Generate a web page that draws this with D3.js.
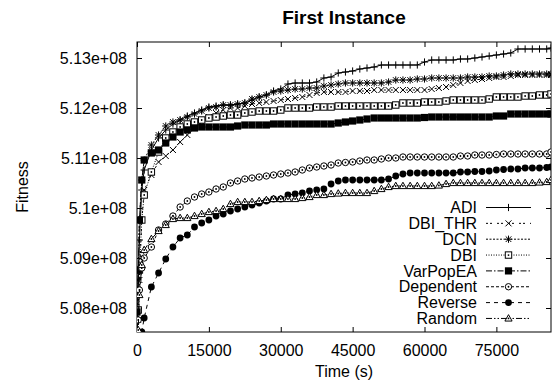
<!DOCTYPE html>
<html>
<head>
<meta charset="utf-8">
<script src="https://cdn.jsdelivr.net/npm/d3@7"></script>
<style>
  body { margin: 0; background: #fff; }
  text { font-family: "Liberation Sans", Arial, sans-serif; fill: #000; }
</style>
</head>
<body>
<div id="chart"></div>
<script>
// sample times (s), shared by every run
var times = [0, 250, 500, 1000,
  1500, 3000, 4500, 6000, 7500, 9000, 10500, 12000, 13500, 15000,
  16500, 18000, 19500, 21000, 22500, 24000, 25500, 27000, 28500, 30000,
  31500, 33000, 34500, 36000, 37500, 39000, 40500, 42000, 43500, 45000,
  46500, 48000, 49500, 51000, 52500, 54000, 55500, 57000, 58500, 60000,
  61500, 63000, 64500, 66000, 67500, 69000, 70500, 72000, 73500, 75000,
  76500, 78000, 79500, 81000, 82500, 84000, 85500,
  86400];

// fitness, in millions
var adi = [507.36, 508.36, 509.36, 510.36,
  510.76, 511.16, 511.40, 511.56, 511.68, 511.76, 511.84, 511.90, 511.96, 512.02,
  512.04, 512.06, 512.06, 512.08, 512.10, 512.16, 512.22, 512.26, 512.34, 512.38,
  512.48, 512.50, 512.50, 512.50, 512.52, 512.60, 512.62, 512.70, 512.72, 512.74,
  512.78, 512.80, 512.82, 512.86, 512.86, 512.86, 512.86, 512.86, 512.86, 512.92,
  512.96, 512.96, 512.96, 512.96, 512.98, 512.98, 513.00, 513.02, 513.04, 513.06,
  513.08, 513.10, 513.18, 513.18, 513.18, 513.18, 513.18,
  513.20];

var dbiThr = [507.26, 507.76, 508.56, 509.76,
  510.36, 510.66, 510.92, 511.04, 511.16, 511.32, 511.46, 511.60, 511.72, 511.82,
  511.90, 511.96, 512.00, 512.00, 512.04, 512.08, 512.10, 512.12, 512.14, 512.16,
  512.18, 512.20, 512.22, 512.26, 512.30, 512.32, 512.32, 512.32, 512.32, 512.34,
  512.34, 512.34, 512.36, 512.36, 512.36, 512.36, 512.36, 512.36, 512.36, 512.36,
  512.38, 512.40, 512.42, 512.46, 512.50, 512.54, 512.56, 512.58, 512.60, 512.62,
  512.62, 512.64, 512.66, 512.66, 512.66, 512.66, 512.66,
  512.66];

var dcn = [507.36, 508.56, 509.76, 510.56,
  510.96, 511.26, 511.46, 511.64, 511.72, 511.76, 511.82, 511.88, 511.94, 512.00,
  512.02, 512.06, 512.06, 512.08, 512.10, 512.18, 512.22, 512.26, 512.32, 512.34,
  512.36, 512.38, 512.38, 512.40, 512.40, 512.44, 512.46, 512.48, 512.50, 512.50,
  512.50, 512.50, 512.50, 512.50, 512.52, 512.56, 512.56, 512.56, 512.58, 512.58,
  512.60, 512.60, 512.60, 512.60, 512.60, 512.62, 512.62, 512.62, 512.64, 512.64,
  512.66, 512.68, 512.68, 512.68, 512.68, 512.68, 512.68,
  512.68];

var dbi = [507.26, 507.96, 508.76, 509.76,
  510.26, 510.72, 511.12, 511.40, 511.52, 511.62, 511.68, 511.72, 511.76, 511.80,
  511.82, 511.84, 511.86, 511.86, 511.90, 511.92, 511.94, 511.94, 511.94, 511.96,
  512.00, 512.00, 512.00, 512.00, 512.02, 512.02, 512.02, 512.04, 512.04, 512.04,
  512.04, 512.04, 512.04, 512.04, 512.04, 512.06, 512.10, 512.10, 512.10, 512.12,
  512.12, 512.12, 512.14, 512.16, 512.16, 512.16, 512.16, 512.16, 512.18, 512.22,
  512.22, 512.22, 512.22, 512.24, 512.24, 512.26, 512.26,
  512.28];

var varPopEA = [507.92, 508.76, 509.76, 510.56,
  510.96, 511.10, 511.16, 511.30, 511.42, 511.52, 511.56, 511.60, 511.62, 511.62,
  511.62, 511.62, 511.62, 511.64, 511.66, 511.66, 511.66, 511.66, 511.68, 511.68,
  511.68, 511.68, 511.68, 511.68, 511.68, 511.68, 511.68, 511.70, 511.72, 511.74,
  511.76, 511.78, 511.80, 511.80, 511.80, 511.80, 511.80, 511.80, 511.80, 511.81,
  511.82, 511.82, 511.82, 511.82, 511.82, 511.82, 511.82, 511.82, 511.82, 511.84,
  511.84, 511.88, 511.88, 511.88, 511.88, 511.88, 511.88,
  511.88];

var dependent = [506.96, 507.76, 508.36, 508.80,
  509.00, 509.22, 509.56, 509.68, 509.84, 510.02, 510.14, 510.22, 510.28, 510.32,
  510.38, 510.42, 510.50, 510.54, 510.58, 510.60, 510.62, 510.64, 510.66, 510.68,
  510.70, 510.72, 510.76, 510.80, 510.82, 510.84, 510.86, 510.90, 510.91, 510.92,
  510.94, 510.96, 510.96, 510.98, 511.00, 511.00, 511.02, 511.02, 511.02, 511.02,
  511.02, 511.02, 511.02, 511.02, 511.04, 511.04, 511.06, 511.06, 511.06, 511.07,
  511.08, 511.08, 511.08, 511.08, 511.08, 511.08, 511.08,
  511.12];

var reverse = [506.56, 506.96, 507.26, 507.52,
  507.80, 508.42, 508.70, 508.98, 509.22, 509.40, 509.46, 509.62, 509.70, 509.76,
  509.84, 509.88, 509.94, 509.98, 510.02, 510.06, 510.10, 510.14, 510.18, 510.18,
  510.26, 510.28, 510.30, 510.34, 510.36, 510.38, 510.48, 510.54, 510.56, 510.56,
  510.56, 510.56, 510.56, 510.56, 510.58, 510.64, 510.68, 510.70, 510.70, 510.70,
  510.70, 510.70, 510.70, 510.70, 510.72, 510.72, 510.73, 510.73, 510.74, 510.76,
  510.77, 510.78, 510.78, 510.80, 510.80, 510.80, 510.81,
  510.82];

var random = [506.76, 507.56, 508.26, 508.86,
  509.16, 509.38, 509.54, 509.66, 509.78, 509.80, 509.80, 509.84, 509.88, 509.92,
  509.94, 509.98, 510.08, 510.12, 510.12, 510.12, 510.14, 510.16, 510.18, 510.18,
  510.18, 510.18, 510.20, 510.22, 510.26, 510.26, 510.28, 510.29, 510.30, 510.30,
  510.30, 510.30, 510.34, 510.38, 510.42, 510.44, 510.44, 510.44, 510.44, 510.44,
  510.44, 510.45, 510.48, 510.50, 510.50, 510.50, 510.50, 510.50, 510.50, 510.50,
  510.50, 510.50, 510.50, 510.50, 510.50, 510.51, 510.52,
  510.56];

var names = ["ADI", "DBI_THR", "DCN", "DBI", "VarPopEA", "Dependent", "Reverse", "Random"];
var values = [adi, dbiThr, dcn, dbi, varPopEA, dependent, reverse, random];

var xTicks = [0, 15000, 30000, 45000, 60000, 75000];
var yTicks = [508, 509, 510, 511, 512, 513];

var W = 553, H = 384;
var margin = {top: 42, right: 2, bottom: 52, left: 137};
var w = W - margin.left - margin.right;
var h = H - margin.top - margin.bottom;

var svg = d3.select("#chart").append("svg")
    .attr("width", W)
    .attr("height", H);

var g = svg.append("g")
    .attr("transform", "translate(" + margin.left + "," + margin.top + ")");

var x = d3.scaleLinear().domain([0, 86400]).range([0, w]);
var y = d3.scaleLinear().domain([507.52, 513.32]).range([h, 0]);

// gnuplot style number format, e.g. 5.13e+08
function expo(d) {
    return (d * 1e6).toExponential().replace(/e\+(\d)$/, "e+0$1");
}

// axes, ticks drawn inward
g.append("g")
    .attr("transform", "translate(0," + h + ")")
    .call(d3.axisBottom(x).tickValues(xTicks).tickSizeInner(-5).tickSizeOuter(0).tickPadding(13).tickFormat(d3.format("d")));
g.append("g")
    .call(d3.axisTop(x).tickValues(xTicks).tickSizeInner(-5).tickSizeOuter(0).tickFormat(""));
g.append("g")
    .call(d3.axisLeft(y).tickValues(yTicks).tickSizeInner(-5).tickSizeOuter(0).tickPadding(10).tickFormat(expo));
g.append("g")
    .attr("transform", "translate(" + w + ",0)")
    .call(d3.axisRight(y).tickValues(yTicks).tickSizeInner(-5).tickSizeOuter(0).tickFormat(""));

g.selectAll(".domain").remove();
g.selectAll(".tick line").attr("stroke", "#000");
g.selectAll(".tick text")
    .style("font-size", "16px")
    .style("font-family", "'Liberation Sans', Arial, sans-serif");

g.append("rect")
    .attr("width", w)
    .attr("height", h)
    .attr("fill", "none")
    .attr("stroke", "#000");

// line styles and point types
var dashes = ["none", "2,2,2,5", "2,1.5", "1,1.5", "6,2,1.5,2", "3,2", "4,4", "6,2,1.5,2,1.5,2"];

function drawMark(sel, i) {
    var s = 3.6;
    if (i === 0) {
        sel.append("path").attr("d", "M" + -s + ",0H" + s + "M0," + -s + "V" + s)
            .attr("stroke", "#000");
    } else if (i === 1) {
        sel.append("path").attr("d", "M-3,-3L3,3M-3,3L3,-3")
            .attr("stroke", "#000");
    } else if (i === 2) {
        sel.append("path").attr("d", "M" + -s + ",0H" + s + "M0," + -s + "V" + s + "M-2.8,-2.8L2.8,2.8M-2.8,2.8L2.8,-2.8")
            .attr("stroke", "#000");
    } else if (i === 3) {
        sel.append("rect").attr("x", -3.2).attr("y", -3.2).attr("width", 6.4).attr("height", 6.4)
            .attr("fill", "#fff").attr("stroke", "#000");
        sel.append("circle").attr("r", 0.9).attr("fill", "#000");
    } else if (i === 4) {
        sel.append("rect").attr("x", -3.6).attr("y", -3.6).attr("width", 7.2).attr("height", 7.2)
            .attr("fill", "#000");
    } else if (i === 5) {
        sel.append("circle").attr("r", 3.2).attr("fill", "#fff").attr("stroke", "#000");
        sel.append("circle").attr("r", 0.9).attr("fill", "#000");
    } else if (i === 6) {
        sel.append("circle").attr("r", 3.4).attr("fill", "#000");
    } else {
        sel.append("path").attr("d", "M0,-3.8L3.6,2.6L-3.6,2.6Z")
            .attr("fill", "#fff").attr("stroke", "#000");
        sel.append("circle").attr("r", 0.9).attr("fill", "#000");
    }
}

svg.append("clipPath").attr("id", "clip")
    .append("rect").attr("width", w).attr("height", h);

var plot = g.append("g").attr("clip-path", "url(#clip)");

var line = d3.line()
    .x(function(d) { return x(d[0]); })
    .y(function(d) { return y(d[1]); });

values.forEach(function(vals, i) {
    var pts = times.map(function(t, j) { return [t, vals[j]]; });
    plot.append("path")
        .datum(pts)
        .attr("d", line)
        .attr("fill", "none")
        .attr("stroke", "#000")
        .attr("stroke-width", 1)
        .attr("stroke-dasharray", dashes[i]);
    plot.selectAll(".m" + i)
        .data(pts.filter(function(d) { return d[1] >= y.domain()[0]; }))
        .enter()
        .append("g")
        .attr("class", "m" + i)
        .attr("transform", function(d) { return "translate(" + x(d[0]) + "," + y(d[1]) + ")"; })
        .each(function() { drawMark(d3.select(this), i); });
});

// legend
var legend = g.append("g").attr("transform", "translate(" + (477 - margin.left) + "," + (207.5 - margin.top) + ")");
names.forEach(function(name, i) {
    var row = legend.append("g").attr("transform", "translate(0," + (i * 15.85) + ")");
    row.append("text")
        .attr("text-anchor", "end")
        .attr("dy", "0.35em")
        .style("font-size", "16px")
        .text(name);
    row.append("line")
        .attr("x1", 9).attr("x2", 54)
        .attr("stroke", "#000")
        .attr("stroke-dasharray", dashes[i]);
    drawMark(row.append("g").attr("transform", "translate(31.5,0)"), i);
});

// titles
svg.append("text")
    .attr("x", margin.left + w / 2)
    .attr("y", 24)
    .attr("text-anchor", "middle")
    .style("font-size", "19px")
    .style("font-weight", "bold")
    .text("First Instance");

svg.append("text")
    .attr("x", margin.left + w / 2)
    .attr("y", 377)
    .attr("text-anchor", "middle")
    .style("font-size", "16px")
    .text("Time (s)");

svg.append("text")
    .attr("transform", "translate(28," + (margin.top + h / 2) + ") rotate(-90)")
    .attr("text-anchor", "middle")
    .style("font-size", "16px")
    .text("Fitness");
</script>
</body>
</html>
